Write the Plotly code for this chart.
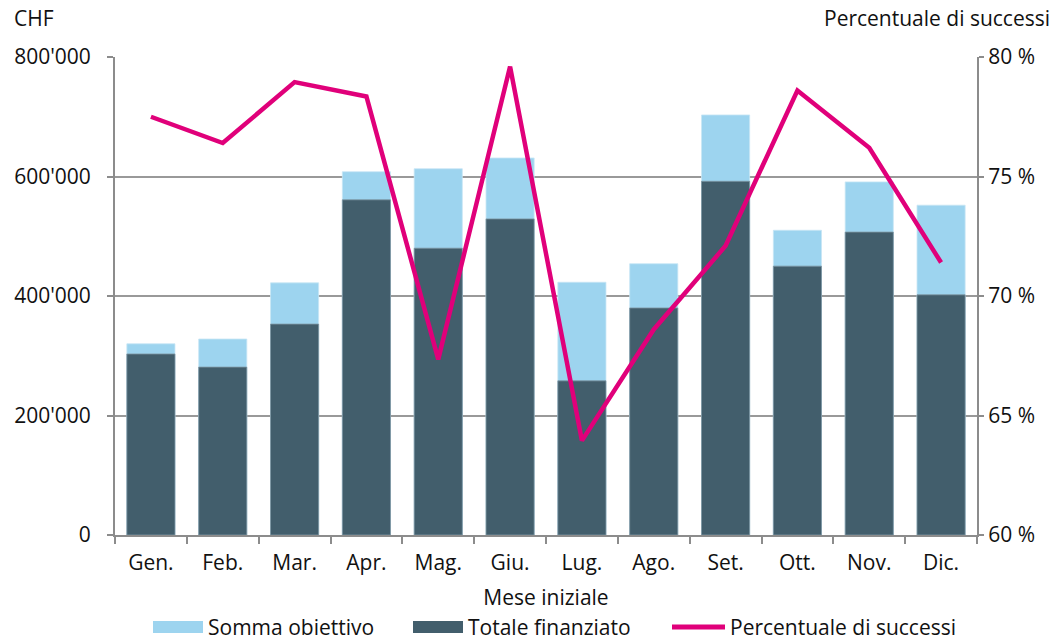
import plotly.graph_objects as go

months = ["Gen.", "Feb.", "Mar.", "Apr.", "Mag.", "Giu.", "Lug.", "Ago.", "Set.", "Ott.", "Nov.", "Dic."]
somma_obiettivo = [320000, 328000, 422000, 608000, 613000, 631000, 423000, 454000, 703000, 510000, 591000, 552000]
totale_finanziato = [303000, 281000, 353000, 561000, 480000, 529000, 258000, 380000, 592000, 450000, 507000, 402000]
percentuale_successi = [77.5, 76.4, 78.95, 78.35, 67.35, 79.6, 63.95, 68.6, 72.1, 78.6, 76.2, 71.4]

chf_ticks = [0, 200000, 400000, 600000, 800000]
chf_labels = ["0", "200'000", "400'000", "600'000", "800'000"]
pct_ticks = [60, 65, 70, 75, 80]
pct_labels = ["60 %", "65 %", "70 %", "75 %", "80 %"]

W, H = 1063, 642
L, R, T, B = 115, 86, 57, 107
PW, PH = W - L - R, H - T - B

LIGHT = "#9dd4ef"
DARK = "#425e6c"
PINK = "#e0007a"
GRAY = "#8c8c8c"
FONT = "Open Sans"
FS = 21


def px(x):
    return (x - L) / PW


def py(y):
    return 1 - (y - T) / PH


fig = go.Figure()
fig.add_trace(go.Bar(x=months, y=somma_obiettivo, name="Somma obiettivo",
                     marker=dict(color=LIGHT, line=dict(color="#c8e6f5", width=0.8))))
fig.add_trace(go.Bar(x=months, y=totale_finanziato, name="Totale finanziato",
                     marker=dict(color=DARK, line=dict(color="#7f97a3", width=0.8))))
fig.add_trace(go.Scatter(x=months, y=percentuale_successi, name="Percentuale di successi",
                         mode="lines", line=dict(color=PINK, width=4.5), yaxis="y2"))

tick_font = dict(family=FONT, size=FS, color="#111111")

fig.update_layout(
    width=W, height=H,
    margin=dict(l=L, r=R, t=T, b=B),
    paper_bgcolor="white", plot_bgcolor="white",
    barmode="overlay", bargap=0.33,
    showlegend=False,
    font=dict(family=FONT, size=FS, color="#111111"),
    xaxis=dict(
        showline=True, linecolor=GRAY, linewidth=2,
        ticks="outside", tickson="boundaries", ticklen=7, tickcolor=GRAY, tickwidth=2,
        showgrid=False, tickfont=tick_font, ticklabelstandoff=8,
        title=dict(text="Mese iniziale", standoff=15, font=dict(size=FS)),
    ),
    yaxis=dict(
        range=[0, 800000], tickvals=chf_ticks, ticktext=chf_labels,
        showline=True, linecolor=GRAY, linewidth=2,
        ticks="outside", ticklen=6, tickcolor=GRAY, tickwidth=2,
        showgrid=True, gridcolor="#999999", gridwidth=2,
        zeroline=False, ticklabelstandoff=12, tickfont=tick_font,
    ),
    yaxis2=dict(
        range=[60, 80], tickvals=pct_ticks, ticktext=pct_labels,
        overlaying="y", side="right",
        showline=True, linecolor=GRAY, linewidth=2,
        ticks="outside", ticklen=5, tickcolor=GRAY, tickwidth=2,
        showgrid=False, zeroline=False, ticklabelstandoff=0, tickfont=tick_font,
    ),
)

annotations = [
    dict(text="CHF", x=px(12), y=py(18), xanchor="left", yanchor="middle"),
    dict(text="Percentuale di successi", x=px(1052), y=py(18), xanchor="right", yanchor="middle"),
]

# legend drawn beneath the axis title
shapes = []
legend_items = [
    ("rect", LIGHT, 153, 203, "Somma obiettivo"),
    ("rect", DARK, 413, 463, "Totale finanziato"),
    ("line", PINK, 672, 725, "Percentuale di successi"),
]
ly = 627
for kind, color, x0, x1, label in legend_items:
    if kind == "rect":
        shapes.append(dict(type="rect", xref="paper", yref="paper",
                           x0=px(x0), x1=px(x1), y0=py(ly + 6), y1=py(ly - 6),
                           fillcolor=color, line=dict(width=0)))
    else:
        shapes.append(dict(type="line", xref="paper", yref="paper",
                           x0=px(x0), x1=px(x1), y0=py(ly), y1=py(ly),
                           line=dict(color=color, width=5)))
    annotations.append(dict(text=label, x=px(x1 + 3), y=py(ly), xanchor="left",
                            yanchor="middle"))

for a in annotations:
    a.update(xref="paper", yref="paper", showarrow=False)
fig.update_layout(annotations=annotations, shapes=shapes)

fig.write_html("out.html")
